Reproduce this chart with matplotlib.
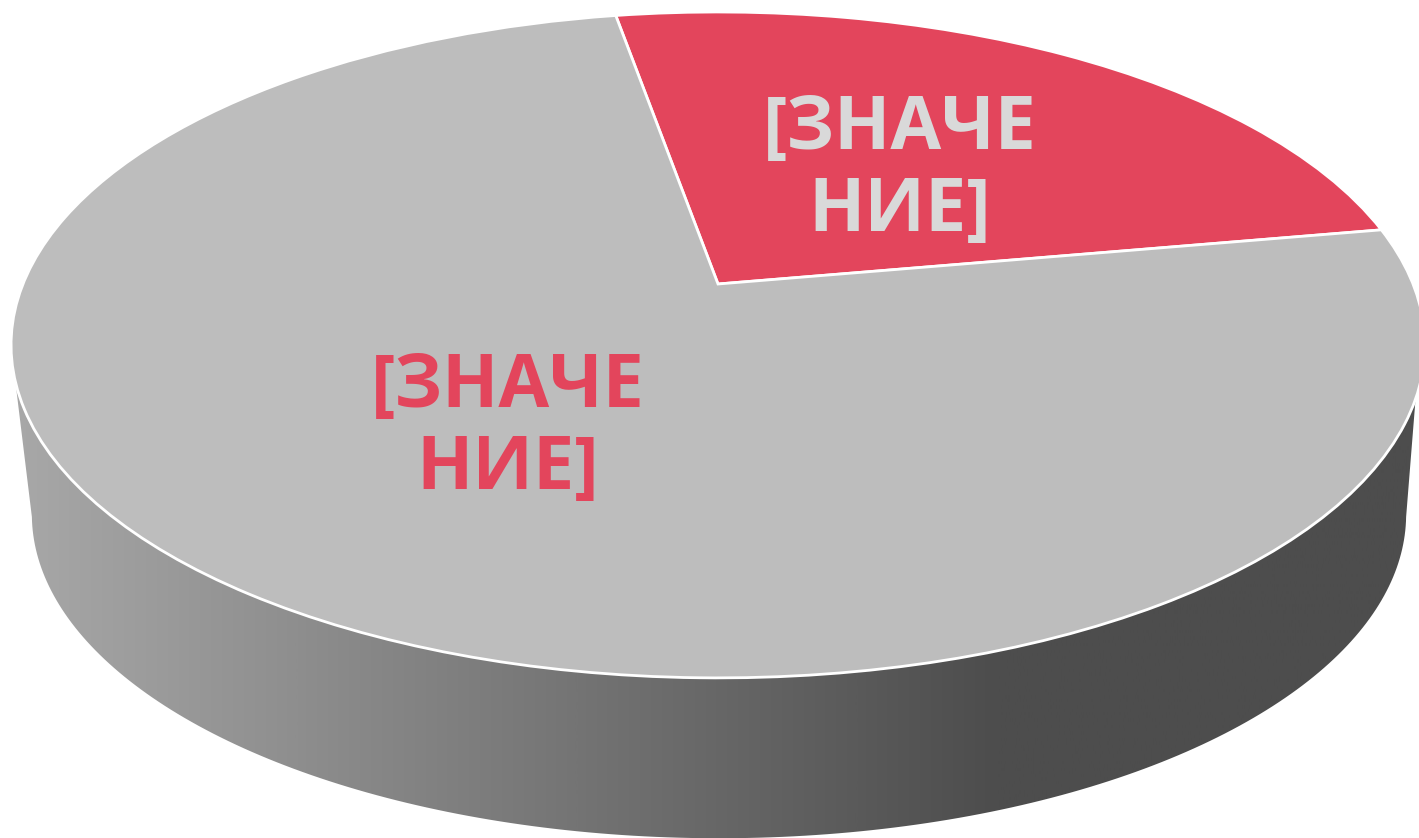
import numpy as np
import matplotlib
matplotlib.use("Agg")
import matplotlib.pyplot as plt
from matplotlib.colors import LinearSegmentedColormap
from matplotlib.patches import Polygon
from matplotlib.transforms import Transform

values = [25, 75]
colors = ["#E3455C", "#BDBDBD"]
labels = ["[ЗНАЧЕ\nНИЕ]", "[ЗНАЧЕ\nНИЕ]"]
label_colors = ["#D9D9D9", "#E3455C"]
label_pos = [(900, 171), (508, 429)]

W, H = 1419, 838
K = 0.183  # perspective of the disc


class DiscProjection(Transform):
    # unit disc -> picture pixels, far edge is squeezed
    input_dims = 2
    output_dims = 2

    def __init__(self, cx, cy, sx=1.0, sy=1.0):
        super().__init__()
        self.cx, self.cy, self.sx, self.sy = cx, cy, sx, sy

    def transform_non_affine(self, xy):
        xy = np.asarray(xy, dtype=float)
        d = 1 + K * xy[:, 1]
        px = self.cx + self.sx * 695 * xy[:, 0] / d
        py = self.cy - self.sy * 321.8 * xy[:, 1] / d
        return np.column_stack([px, py])


top = DiscProjection(718, 284)
bottom = DiscProjection(719, 455, 0.972, 0.973)

fig = plt.figure(figsize=(W / 100, H / 100), dpi=100)
ax = fig.add_axes([0, 0, 1, 1])

wedges, _ = ax.pie(values, colors=colors, startangle=10, counterclock=True,
                   wedgeprops=dict(edgecolor="white", linewidth=2, zorder=3))
for w in wedges:
    w.set_transform(top + ax.transData)

# side wall of the cake
a_top = np.radians(np.linspace(196.7, 340.4, 200))
a_bot = np.radians(np.linspace(349, 191, 200))
rim = top.transform(np.column_stack([np.cos(a_top), np.sin(a_top)]))
base = bottom.transform(np.column_stack([np.cos(a_bot), np.sin(a_bot)]))
side = Polygon(np.vstack([rim, base]), closed=True, transform=ax.transData,
               facecolor="none", edgecolor="none")
ax.add_patch(side)

side_cmap = LinearSegmentedColormap.from_list(
    "side", [(0, "#A8A8A8"), (0.70, "#4D4D4D"), (1, "#4D4D4D")])
grad = np.linspace(0, 1, 512).reshape(1, -1)
img = ax.imshow(grad, extent=[14, W, H, 0], cmap=side_cmap, aspect="auto", zorder=1)
img.set_clip_path(side)

for txt, c, (x, y) in zip(labels, label_colors, label_pos):
    ax.text(x, y, txt, color=c, ha="center", va="center", fontsize=53,
            fontweight="bold", family="Open Sans", linespacing=1.14, zorder=5)

ax.set_aspect("auto")
ax.set_xlim(0, W)
ax.set_ylim(H, 0)
ax.axis("off")

fig.savefig("out.png", dpi=100)
